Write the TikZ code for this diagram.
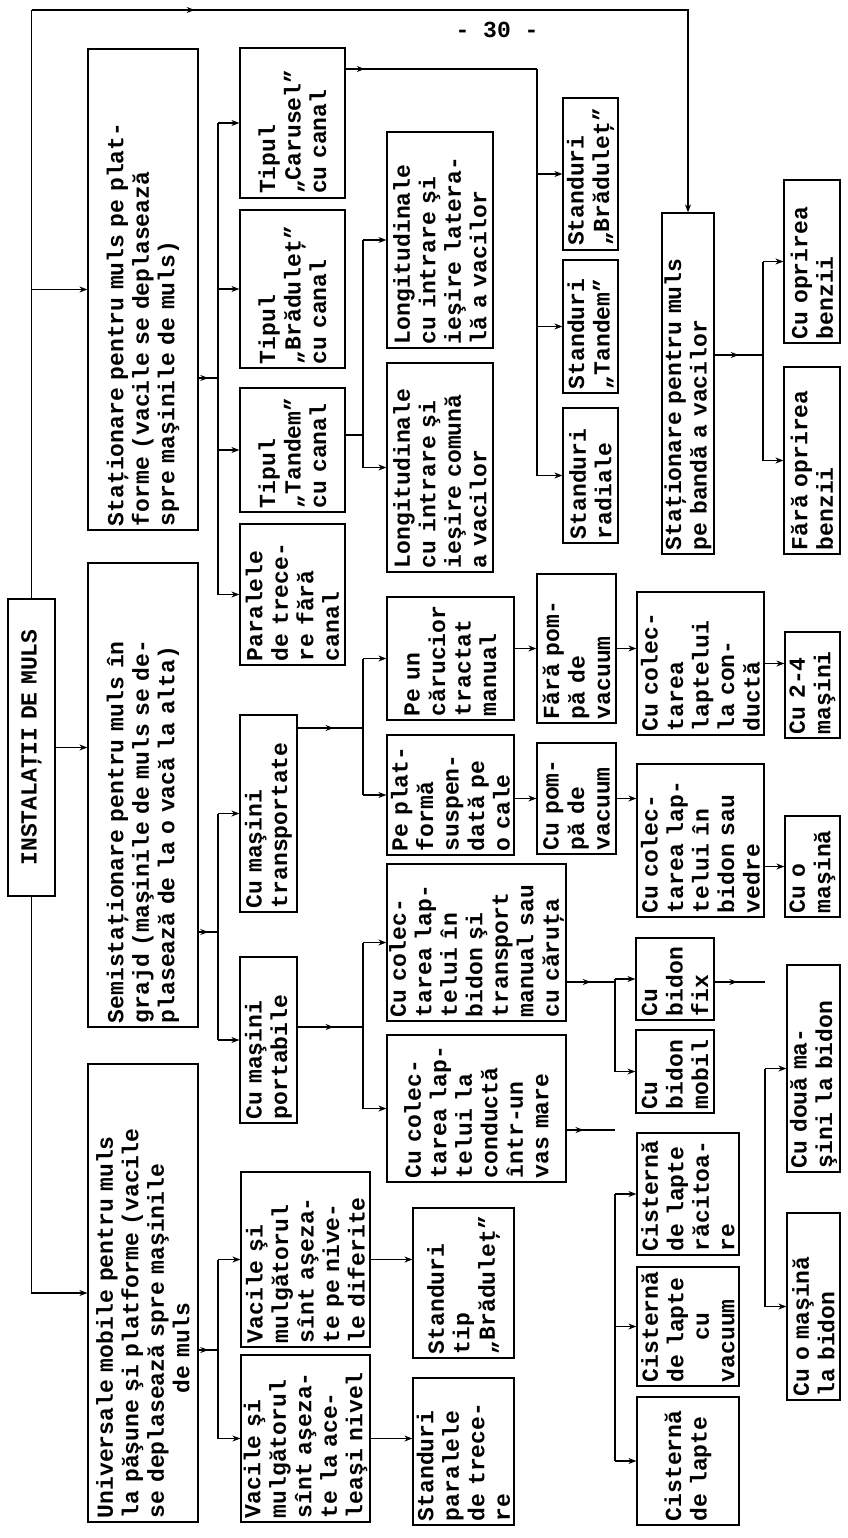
\documentclass[tikz,border=0pt]{standalone}
\usepackage{fontspec}
\setmainfont{Liberation Mono}
\usetikzlibrary{arrows.meta,decorations.markings}
\newcommand{\boxfont}{\fontsize{23}{25.5}\selectfont\bfseries}
\tikzset{
  box/.style={draw, rotate=90, inner sep=0pt, font=\boxfont, align=left},
  sz/.style 2 args={minimum width=#1, minimum height=#2, text width=#1-8},
  arr/.style={-{Stealth[length=8pt,width=6pt]}},
  midarr/.style={postaction={decorate}, decoration={markings,
    mark=at position #1 with {\arrow{Stealth[length=8pt,width=6pt]}}}},
  midarr/.default=0.5,
}
\begin{document}
\begin{tikzpicture}[x=1pt, y=-1pt, line width=1.2pt]
  \useasboundingbox (0,0) rectangle (847,1538);
  \node[font=\boxfont] (pg) at (497,30) {- 30 -};

  % root and the three main groups
  \node[box, sz={297}{47}, align=center] (root) at (31.5,747.5) {INSTALAŢII DE MULS};
  \node[box, sz={481}{110}] (A) at (143,289.5) {Staţionare pentru muls pe plat-\\forme (vacile se deplasează\\spre maşinile de muls)};
  \node[box, sz={464}{110}] (B) at (143,795) {Semistaţionare pentru muls în\\grajd (maşinile de muls se de-\\plasează de la o vacă la alta)};
  \node[box, sz={458}{110}] (C) at (143,1293) {Universale mobile pentru muls\\la păşune şi platforme (vacile\\se deplasează spre maşinile\\\hspace*{125pt}de muls};
  \node[box, sz={341}{52}] (Band) at (688,383.5) {Staţionare pentru muls\\pe bandă a vacilor};

  % platforme
  \node[box, sz={150}{105}] (A1) at (292.5,123) {Tipul\\„Carusel”\\cu canal};
  \node[box, sz={158}{105}] (A2) at (292.5,289) {Tipul\\„Brăduleţ”\\cu canal};
  \node[box, sz={124}{105}] (A3) at (292.5,450) {Tipul\\„Tandem”\\cu canal};
  \node[box, sz={141}{105}] (A4) at (292.5,594.5) {Paralele\\de trece-\\re fără\\canal};
  \node[box, sz={216}{106}] (LongLat) at (440,240) {Longitudinale\\cu intrare şi\\ieşire latera-\\lă a vacilor};
  \node[box, sz={209}{106}] (LongCom) at (440,467.5) {Longitudinale\\cu intrare şi\\ieşire comună\\a vacilor};
  \node[box, sz={152}{55}] (StBrad) at (590.5,174) {Standuri\\„Brăduleţ”};
  \node[box, sz={133}{55}] (StTand) at (590.5,326.5) {Standuri\\„Tandem”};
  \node[box, sz={135}{55}] (StRad) at (590.5,475.5) {Standuri\\radiale};
  \node[box, sz={163}{56}] (CuOpr) at (812,261.5) {Cu oprirea\\benzii};
  \node[box, sz={187}{56}] (FaraOpr) at (812,460.5) {Fără oprirea\\benzii};

  % grajd
  \node[box, sz={197}{57}] (B1) at (268.5,813.5) {Cu maşini\\transportate};
  \node[box, sz={166}{57}] (B2) at (268.5,1040) {Cu maşini\\portabile};
  \node[box, sz={123}{127}] (Carucior) at (450.5,658.5) {Pe un\\cărucior\\tractat\\manual};
  \node[box, sz={120}{127}] (Platf) at (450.5,795) {Pe plat-\\formă\\suspen-\\dată pe\\o cale};
  \node[box, sz={149}{79}] (FaraPompa) at (576.5,648.5) {Fără pom-\\pă de\\vacuum};
  \node[box, sz={111}{79}] (CuPompa) at (576.5,798.5) {Cu pom-\\pă de\\vacuum};
  \node[box, sz={143}{127}] (ColCond) at (700.5,663.5) {Cu colec-\\tarea\\laptelui\\la con-\\ductă};
  \node[box, sz={153}{127}] (ColBidon) at (700.5,840.5) {Cu colec-\\tarea lap-\\telui în\\bidon sau\\vedre};
  \node[box, sz={106}{55}] (Cu24) at (812.5,685) {Cu 2-4\\maşini};
  \node[box, sz={101}{55}] (CuOMas) at (812.5,866.5) {Cu o\\maşină};
  \node[box, sz={157}{179}] (ColTransp) at (476.5,942.5) {Cu colec-\\tarea lap-\\telui în\\bidon şi\\transport\\manual sau\\cu căruţa};
  \node[box, sz={147}{179}] (ColVas) at (476.5,1108.5) {Cu colec-\\tarea lap-\\telui la\\conductă\\într-un\\vas mare};
  \node[box, sz={82}{78}] (BidFix) at (675,979) {Cu\\bidon\\fix};
  \node[box, sz={83}{78}] (BidMob) at (675,1071.5) {Cu\\bidon\\mobil};
  \node[box, sz={207}{53}] (DouaMas) at (813.5,1068.5) {Cu două ma-\\şini la bidon};
  \node[box, sz={187}{53}] (OMasBid) at (813.5,1306.5) {Cu o maşină\\la bidon};
  \node[box, sz={122}{102}] (CistRac) at (688,1194) {Cisternă\\de lapte\\răcitoa-\\re};
  \node[box, sz={119}{102}] (CistVac) at (688,1326.5) {Cisternă\\de lapte\\\makebox[\linewidth]{cu}\\vacuum};
  \node[box, sz={128}{102}] (Cist) at (688,1461) {Cisternă\\de lapte};

  % mobile
  \node[box, sz={175}{129}] (C1) at (305.5,1259.5) {Vacile şi\\mulgătorul\\sînt aşeza-\\te pe nive-\\le diferite};
  \node[box, sz={167}{129}] (C2) at (305.5,1438.5) {Vacile şi\\mulgătorul\\sînt aşeza-\\te la ace-\\leaşi nivel};
  \node[box, sz={150}{101}] (StTip) at (463.5,1283) {Standuri\\tip\\„Brăduleţ”};
  \node[box, sz={147}{101}] (StPar) at (463.5,1451.5) {Standuri\\paralele\\de trece-\\re};

  % connectors from the root
  \coordinate (tl) at (31.5,10);
  \draw (root.east) -- (tl);
  \draw[arr, midarr=0.19] (tl) -- (tl -| Band.east) -- (Band.east);
  \draw[arr] (tl |- A.north) -- (A.north);
  \draw[arr] (root.south) -- (root.south -| B.north);
  \draw[arr] (root.west) -- (root.west |- C.north) -- (C.north);

  % buses
  \coordinate (ba) at (218,378);
  \draw[midarr] (ba -| A.south) -- (ba);
  \draw (ba |- A1.north) -- (ba |- A4.north);
  \foreach \n in {A1,A2,A3,A4} \draw[arr] (ba |- \n.north) -- (\n.north);

  \coordinate (bs) at (537,69);
  \draw[midarr=0.1] (bs -| A1.south) -- (bs);
  \draw (bs) -- (bs |- StRad.north);
  \foreach \n in {StBrad,StTand,StRad} \draw[arr] (bs |- \n.north) -- (\n.north);

  \coordinate (bl) at (363,435);
  \draw (bl -| A3.south) -- (bl);
  \draw (bl |- LongLat.north) -- (bl |- LongCom.north);
  \foreach \n in {LongLat,LongCom} \draw[arr] (bl |- \n.north) -- (\n.north);

  \coordinate (bo) at (763,355);
  \draw[midarr] (bo -| Band.south) -- (bo);
  \draw (bo |- CuOpr.north) -- (bo |- FaraOpr.north);
  \foreach \n in {CuOpr,FaraOpr} \draw[arr] (bo |- \n.north) -- (\n.north);

  \coordinate (bb) at (218,932);
  \draw[midarr] (bb -| B.south) -- (bb);
  \draw (bb |- B1.north) -- (bb |- B2.north);
  \foreach \n in {B1,B2} \draw[arr] (bb |- \n.north) -- (\n.north);

  \coordinate (bt) at (363,728);
  \draw[midarr=0.55] (bt -| B1.south) -- (bt);
  \draw (bt |- Carucior.north) -- (bt |- Platf.north);
  \foreach \n in {Carucior,Platf} \draw[arr] (bt |- \n.north) -- (\n.north);

  \draw[arr] (FaraPompa.north -| Carucior.south) -- (FaraPompa.north);
  \draw[arr] (CuPompa.north -| Platf.south) -- (CuPompa.north);
  \draw[arr] (FaraPompa.south) -- (FaraPompa.south -| ColCond.north);
  \draw[arr] (CuPompa.south) -- (CuPompa.south -| ColBidon.north);
  \draw[arr] (ColCond.south) -- (ColCond.south -| Cu24.north);
  \draw[arr] (CuOMas.north -| ColBidon.south) -- (CuOMas.north);

  \coordinate (bp) at (363,1027);
  \draw[midarr=0.55] (bp -| B2.south) -- (bp);
  \draw (bp |- ColTransp.north) -- (bp |- ColVas.north);
  \foreach \n in {ColTransp,ColVas} \draw[arr] (bp |- \n.north) -- (\n.north);

  \coordinate (bd) at (615,982);
  \draw[midarr] (bd -| ColTransp.south) -- (bd);
  \draw (bd |- BidFix.north) -- (bd |- BidMob.north);
  \foreach \n in {BidFix,BidMob} \draw[arr] (bd |- \n.north) -- (\n.north);

  \coordinate (bf) at (765,982);
  \draw[midarr=0.45] (bf -| BidFix.south) -- (bf);
  \draw (bf |- DouaMas.north) -- (bf |- OMasBid.north);
  \foreach \n in {DouaMas,OMasBid} \draw[arr] (bf |- \n.north) -- (\n.north);

  \coordinate (bv) at (615,1130);
  \draw[midarr=0.35] (bv -| ColVas.south) -- (bv);
  \draw (bv |- CistRac.north) -- (bv |- Cist.north);
  \foreach \n in {CistRac,CistVac,Cist} \draw[arr] (bv |- \n.north) -- (\n.north);

  \coordinate (bc) at (218,1350);
  \draw[midarr] (bc -| C.south) -- (bc);
  \draw (bc |- C1.north) -- (bc |- C2.north);
  \foreach \n in {C1,C2} \draw[arr] (bc |- \n.north) -- (\n.north);

  \draw[arr] (C1.south) -- (C1.south -| StTip.north);
  \draw[arr] (C2.south) -- (C2.south -| StPar.north);
\end{tikzpicture}
\end{document}
